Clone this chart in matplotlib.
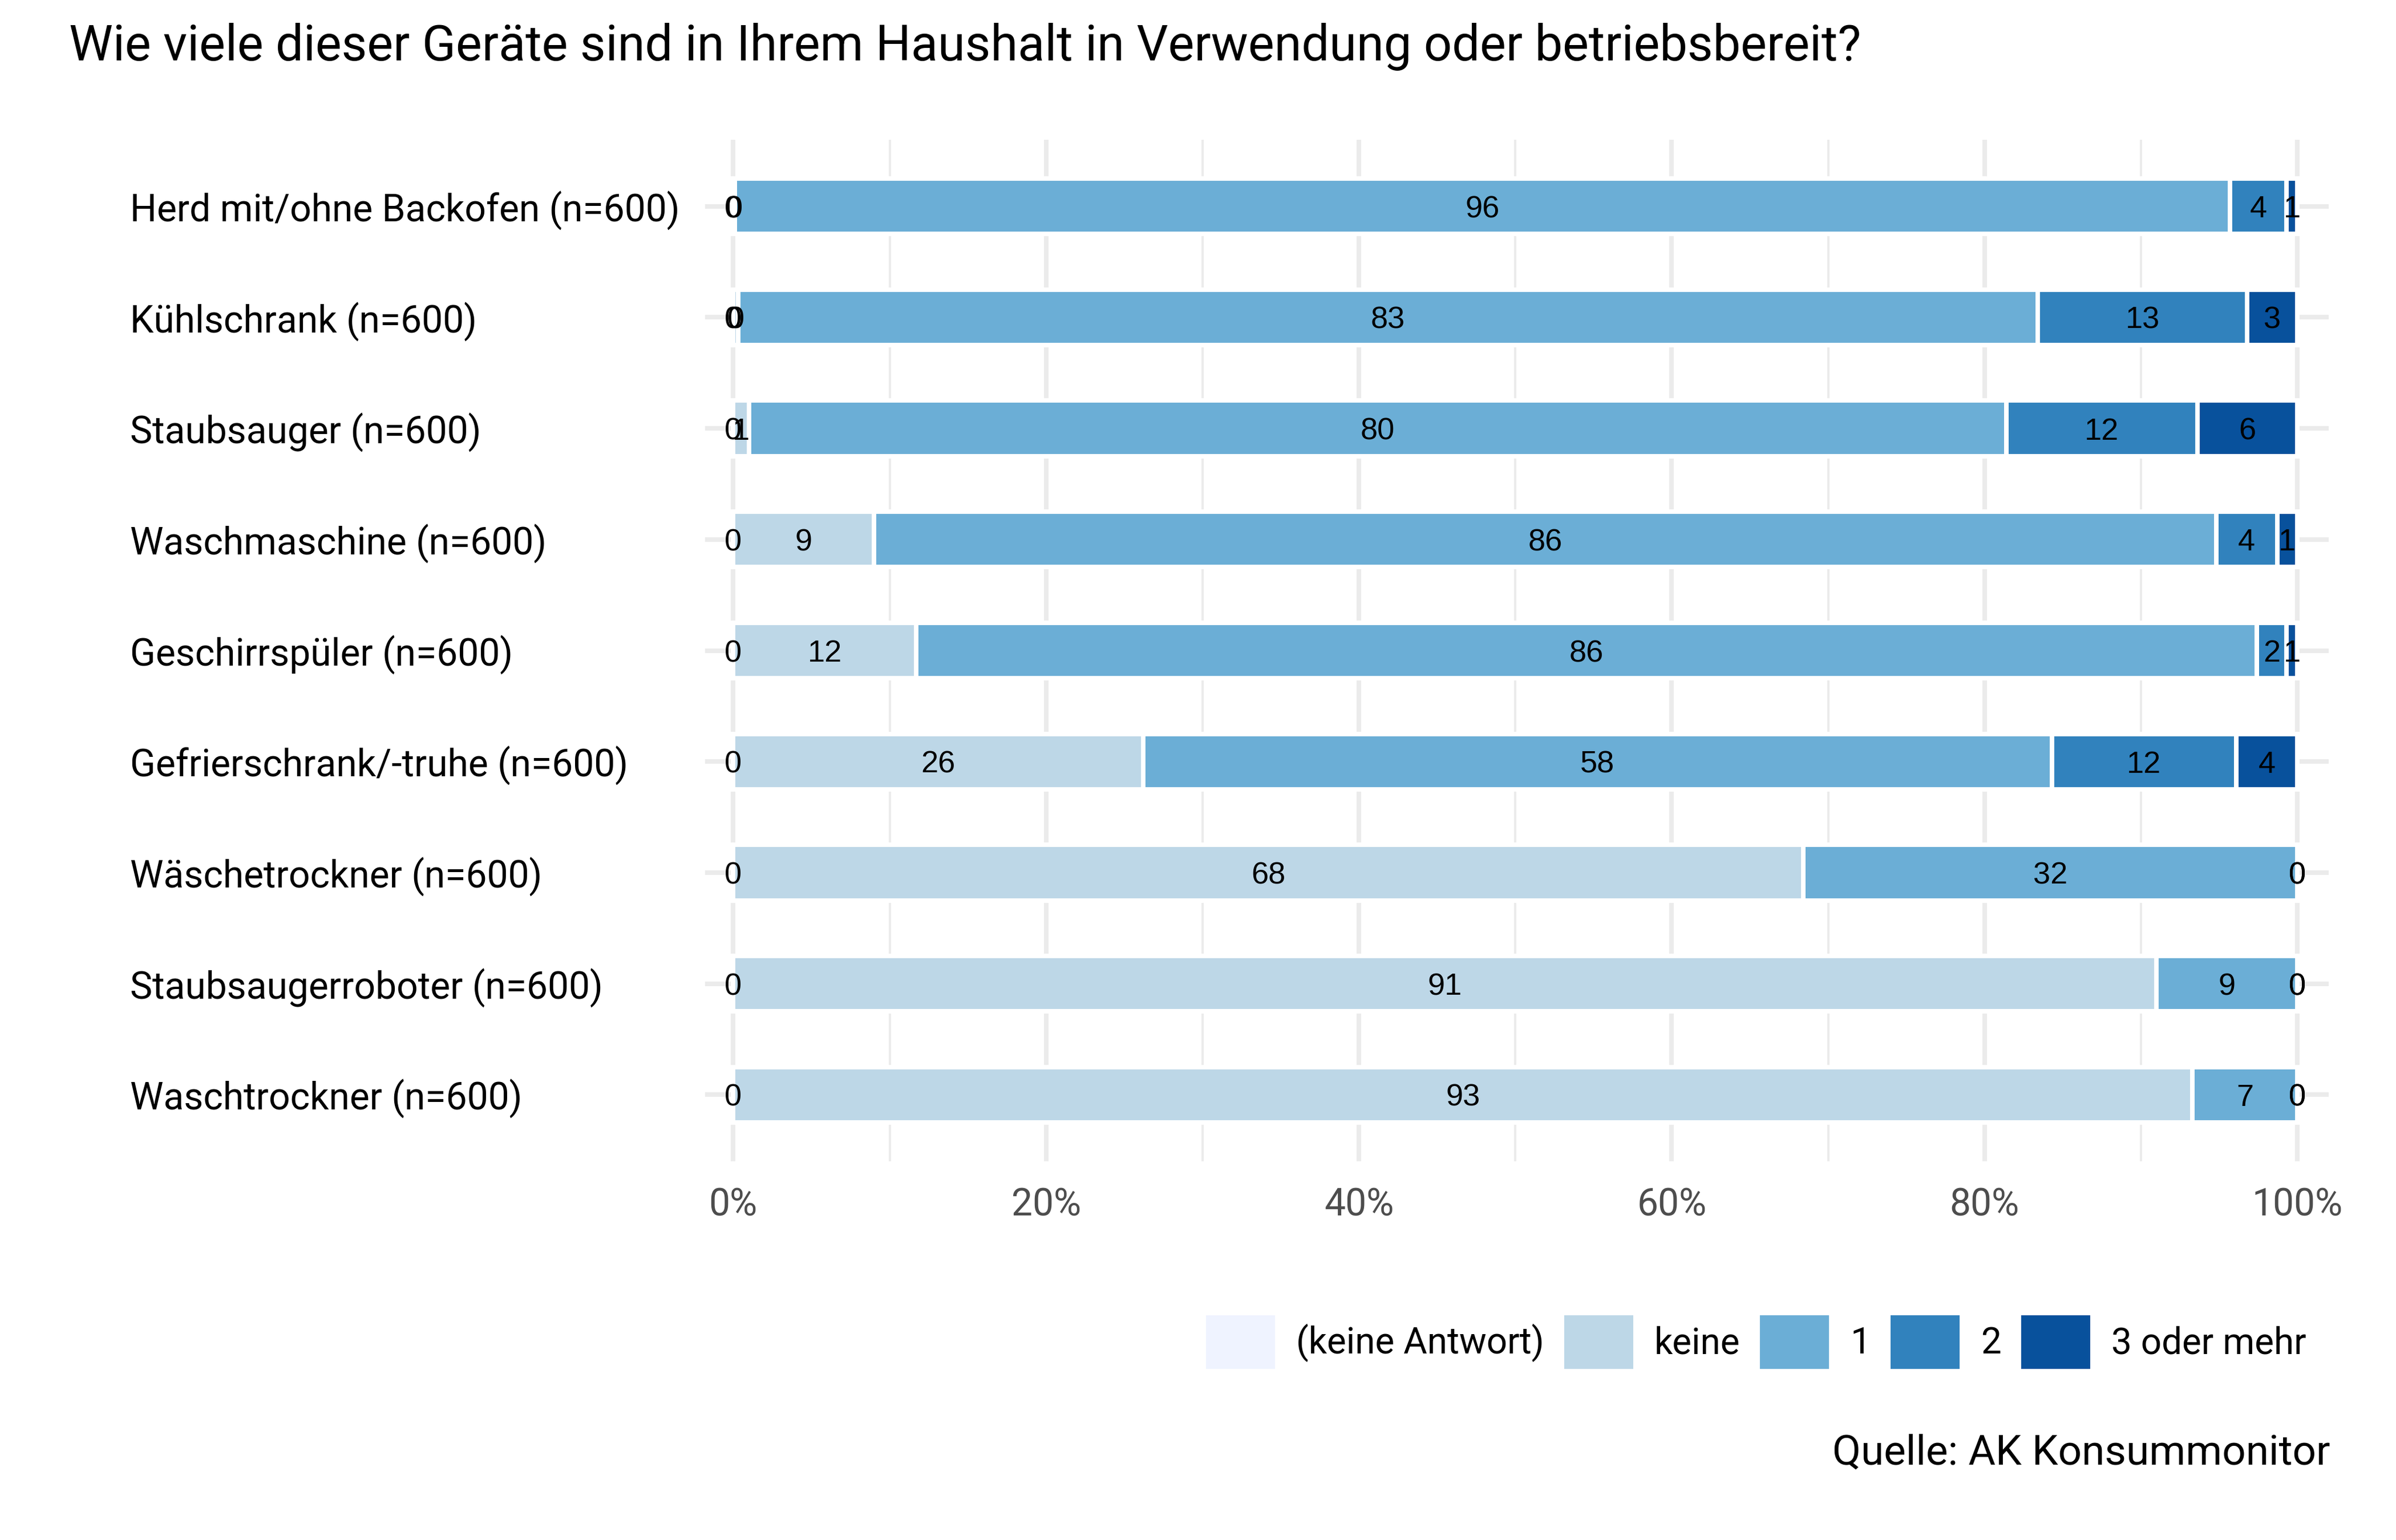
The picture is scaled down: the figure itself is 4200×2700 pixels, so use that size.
import matplotlib
matplotlib.use("Agg")
import matplotlib.pyplot as plt
from matplotlib.patches import Patch
import numpy as np

# Daten
categories = [
    "Herd mit/ohne Backofen (n=600)",
    "Kühlschrank (n=600)",
    "Staubsauger (n=600)",
    "Waschmaschine (n=600)",
    "Geschirrspüler (n=600)",
    "Gefrierschrank/-truhe (n=600)",
    "Wäschetrockner (n=600)",
    "Staubsaugerroboter (n=600)",
    "Waschtrockner (n=600)",
]
series_names = ["(keine Antwort)", "keine", "1", "2", "3 oder mehr"]
keine_antwort = [0.0, 0.0, 0.0, 0.0, 0.0, 0.0, 0.0, 0.0, 0.0]
keine = [0.1, 0.3, 1.0, 9.0, 11.7, 26.2, 68.4, 91.0, 93.3]
eins = [95.6, 83.1, 80.4, 85.8, 85.7, 58.1, 31.6, 9.0, 6.7]
zwei = [3.6, 13.4, 12.2, 3.9, 1.9, 11.8, 0.0, 0.0, 0.0]
drei_plus = [0.7, 3.2, 6.4, 1.3, 0.7, 3.9, 0.0, 0.0, 0.0]
x_ticks = [0, 20, 40, 60, 80, 100]

colors = ["#eff3ff", "#bdd7e7", "#6baed6", "#3182bd", "#08519c"]
GRID = "#ebebeb"

plt.rcParams.update({
    "font.family": ["Roboto", "DejaVu Sans"],
    "font.size": 15.8,
})


def px(p):
    """Pixel (bei 300 dpi) in Punkt."""
    return p * 72 / 300


fig = plt.figure(figsize=(14, 9), dpi=300)
ax = fig.add_axes([1236 / 4200, 1 - 2036 / 2700, (4082 - 1236) / 4200, 1791 / 2700])

y = np.arange(1, len(categories) + 1)
series = [keine_antwort, keine, eins, zwei, drei_plus]

# Gitter
for xv in range(10, 100, 20):
    ax.axvline(xv, color=GRID, lw=px(4), zorder=0)
for xv in x_ticks:
    ax.axvline(xv, color=GRID, lw=px(8), zorder=0)
for yv in y:
    ax.axhline(yv, color=GRID, lw=px(8), zorder=0)

left = np.zeros(len(categories))
for vals, col in zip(series, colors):
    vals = np.array(vals)
    ax.barh(y, vals, left=left, height=0.5, color=col, edgecolor="white",
            linewidth=px(8), zorder=2)
    for yi, l, v in zip(y, left, vals):
        ax.text(l + v / 2, yi, f"{v:.0f}", ha="center", va="center_baseline",
                fontsize=13, family=["Liberation Sans", "DejaVu Sans"],
                color="black", zorder=3)
    left = left + vals

ax.set_xlim(-1.8, 102)
ax.set_ylim(9.6, 0.4)
ax.set_xticks(x_ticks)
ax.set_xticklabels([f"{t}%" for t in x_ticks], color="#4d4d4d", fontsize=15.8)
ax.set_yticks(y)
ax.set_yticklabels(categories, fontsize=15.8, color="black")
for lbl in ax.get_yticklabels():
    lbl.set_ha("left")
ax.tick_params(axis="y", length=0, pad=px(1008))
ax.tick_params(axis="x", length=0, pad=px(45))
for s in ax.spines.values():
    s.set_visible(False)

fig.text(121 / 4200, 1 - 106 / 2700,
         "Wie viele dieser Geräte sind in Ihrem Haushalt in Verwendung oder betriebsbereit?",
         fontsize=20.8, ha="left", va="baseline", color="black")

handles = [Patch(facecolor=c, edgecolor="none") for c in colors]
leg_fs = 15.3
fs_px = leg_fs * 300 / 72
fig.legend(handles, series_names, loc="center left",
           bbox_to_anchor=(2114 / 4200, 1 - 2353 / 2700), ncol=5, frameon=False,
           fontsize=leg_fs, handlelength=121 / fs_px, handleheight=121 / fs_px,
           handletextpad=37 / fs_px, columnspacing=35 / fs_px,
           borderpad=0, borderaxespad=0)

fig.text(4085 / 4200, 1 - 2567 / 2700, "Quelle: AK Konsummonitor",
         fontsize=17.5, ha="right", va="baseline", color="black")

fig.savefig("out.png", dpi=300, facecolor="white")
